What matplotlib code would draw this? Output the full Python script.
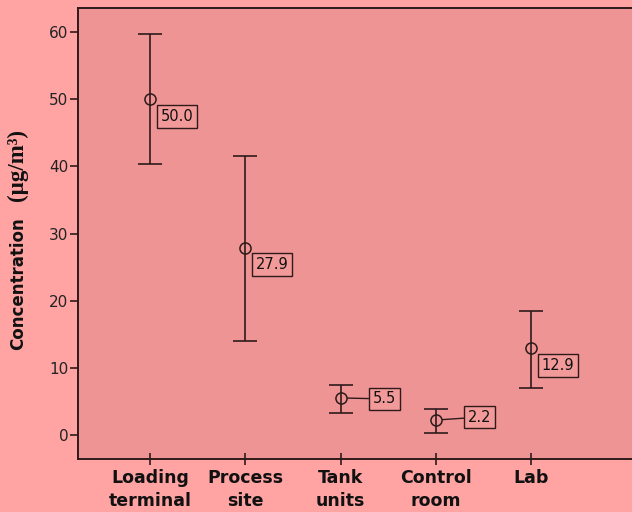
import matplotlib
matplotlib.use("Agg")
import matplotlib.pyplot as plt
import numpy as np

categories = ["Loading\nterminal", "Process\nsite", "Tank\nunits", "Control\nroom", "Lab"]
means = [50.0, 27.9, 5.5, 2.2, 12.9]
err_low = [9.7, 13.9, 2.3, 1.9, 5.9]
err_high = [9.7, 13.7, 2.0, 1.7, 5.6]
label_offsets_px = [(27, -17), (27, -17), (44, -1), (44, 3), (27, -17)]
leader_lines = [False, False, True, True, False]

fig_bg = "#FFA3A3"
ax_bg = "#EE9494"
ink = "#2e1a1a"

plt.rcParams["font.family"] = ["DejaVu Sans"]

fig = plt.figure(figsize=(6.32, 5.12), dpi=100, facecolor=fig_bg)
ax = fig.add_axes([78/632, 1 - 459/512, 1 - 78/632, (459 - 8)/512], facecolor=ax_bg)

x = np.arange(len(categories))
ax.errorbar(x, means, yerr=[err_low, err_high], fmt="none", ecolor=ink,
            elinewidth=1.2, capsize=8.6, capthick=1.2)
ax.plot(x, means, linestyle="none", marker="o", markersize=8,
        markerfacecolor="none", markeredgecolor=ink, markeredgewidth=1.1)

for xi, m, off, lead in zip(x, means, label_offsets_px, leader_lines):
    kw = {}
    if lead:
        kw["arrowprops"] = dict(arrowstyle="-", color=ink, lw=1.0, shrinkA=0, shrinkB=5)
    ax.annotate(f"{m:.1f}", xy=(xi, m), xytext=off, textcoords="offset pixels",
                ha="center", va="center", fontsize=10.5, color="#111111",
                bbox=dict(boxstyle="square,pad=0.26", fc="#F29999", ec=ink, lw=1.0),
                **kw)

ax.set_xlim(-0.756, 5.06)
ax.set_ylim(-3.6, 63.6)
ax.set_yticks([0, 10, 20, 30, 40, 50, 60])
ax.set_xticks(x)
ax.set_xticklabels(categories, fontsize=12.5, fontweight="bold", color="#111111",
                   linespacing=1.4)
ax.tick_params(axis="x", direction="inout", length=8, width=1.2, color=ink, pad=3)
ax.tick_params(axis="y", direction="out", length=6, width=1.2, color=ink,
               labelsize=11, labelcolor="#222222", pad=1)

for s in ["left", "bottom", "top"]:
    ax.spines[s].set_color(ink)
    ax.spines[s].set_linewidth(1.4)
ax.spines["right"].set_visible(False)

fig.text(18/632, 1 - 283.5/512, "Concentration", rotation=90, ha="center", va="center",
         fontsize=12, fontweight="bold", color="#111111")
fig.text(17/632, 1 - 165/512, "(µg/m³)", rotation=90, ha="center", va="center",
         fontsize=16.5, fontweight="bold", color="#111111", family="Liberation Serif")

fig.savefig("out.png", dpi=100, facecolor=fig_bg)
